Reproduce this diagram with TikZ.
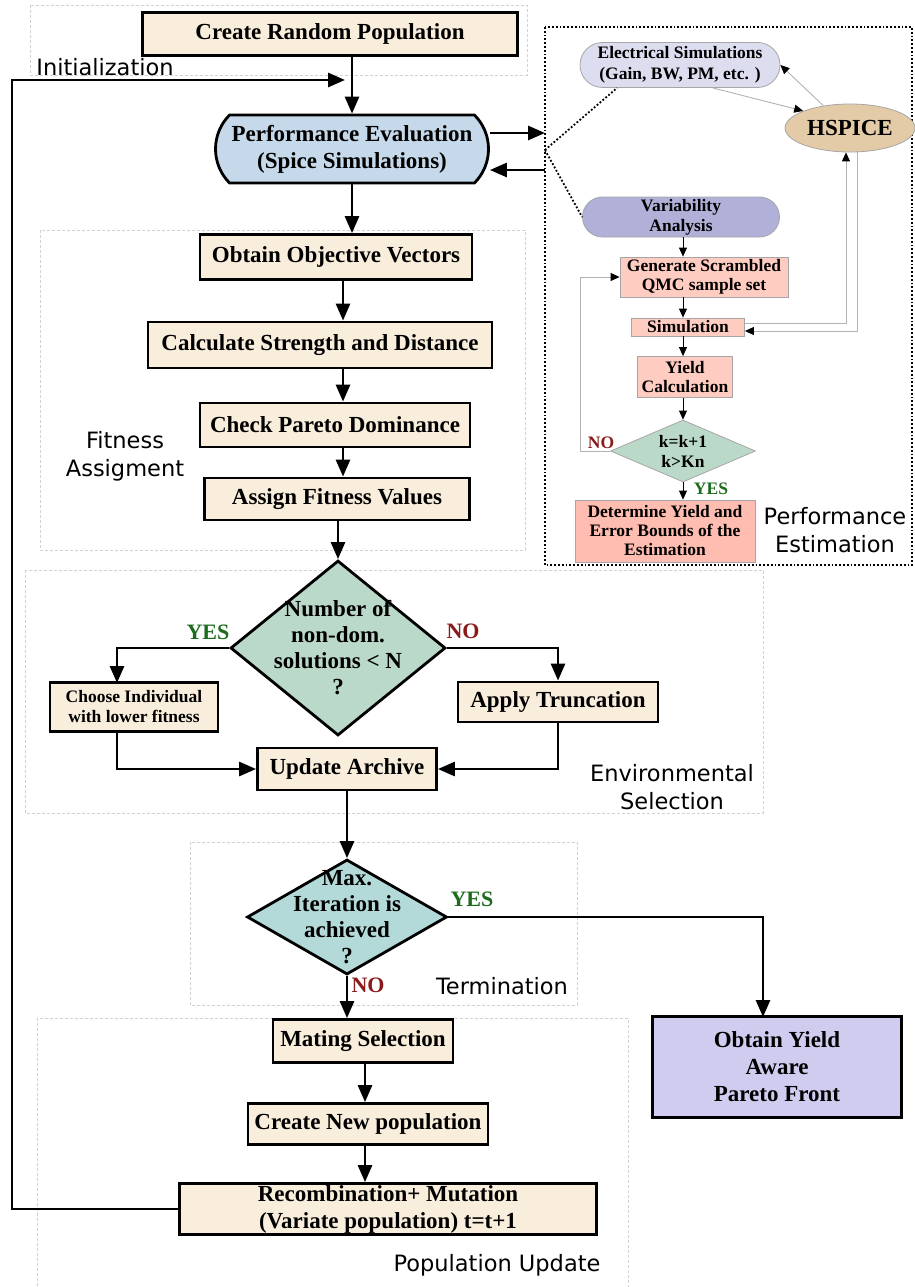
\documentclass[tikz,border=0pt]{standalone}
\usepackage{fontspec}
\setmainfont{Liberation Serif}
\newfontfamily\tagfont{DejaVu Sans}
\usetikzlibrary{arrows.meta,shapes.geometric,shapes.misc}
\definecolor{stepfill}{HTML}{F9EDDC}
\definecolor{evalfill}{HTML}{C6D9EA}
\definecolor{choicefill}{HTML}{BBD9C9}
\definecolor{stopfill}{HTML}{B3D9D9}
\definecolor{elecfill}{HTML}{DDDDF0}
\definecolor{varfill}{HTML}{B0B0D8}
\definecolor{spicefill}{HTML}{E3CBA8}
\definecolor{mcfill}{HTML}{FFCCC2}
\definecolor{detfill}{HTML}{FFBCB0}
\definecolor{frontfill}{HTML}{D0CCF0}
\definecolor{yesgreen}{HTML}{1D6B1D}
\definecolor{nored}{HTML}{8B1A1A}
\tikzset{
  stepbox/.style={draw=black,line width=2.8pt,fill=stepfill,align=center,inner sep=1pt,
    font=\fontsize{23}{27}\selectfont\bfseries},
  smallstep/.style={stepbox,font=\fontsize{17.5}{20}\selectfont\bfseries},
  evalbox/.style={stepbox,rounded rectangle,rounded rectangle arc length=90,fill=evalfill},
  choice/.style={draw=black,line width=2.8pt,diamond,align=center,
    font=\fontsize{23}{26}\selectfont\bfseries},
  mcbox/.style={draw=gray!70,line width=0.8pt,fill=mcfill,align=center,inner sep=0pt,
    font=\fontsize{17.5}{19}\selectfont\bfseries},
  pill/.style={draw=gray!70,line width=0.8pt,rounded rectangle,align=center,inner sep=0pt,
    font=\fontsize{17.5}{21}\selectfont\bfseries},
  arrow/.style={-{Triangle[length=17pt,width=14pt]},line width=2.8pt},
  thinarrow/.style={-{Triangle[length=9pt,width=8pt]},line width=0.8pt},
  grayarrow/.style={-{Triangle[length=9pt,width=8pt,color=black]},line width=0.9pt,draw=gray!60},
  dotline/.style={dotted,line width=1.8pt},
  section/.style={draw=gray!35,densely dashed,line width=0.6pt},
  seclabel/.style={font=\tagfont\fontsize{22.5}{28}\selectfont,align=center,inner sep=0pt},
  yeslab/.style={text=yesgreen,font=\fontsize{22}{26}\selectfont\bfseries,inner sep=0pt},
  nolab/.style={yeslab,text=nored}
}
\begin{document}
\begin{tikzpicture}[x=1pt,y=-1pt]
\useasboundingbox (0,0) rectangle (914,1287);

% section frames
\draw[section] (30,5) rectangle (527,75);
\draw[section] (40,230) rectangle (525,550);
\draw[section] (25,570) rectangle (763,813);
\draw[section] (190,842) rectangle (577,1005);
\draw[section] (37,1018) rectangle (628,1295);
\draw[dotline] (545,27) rectangle (912,565);

% main flow
\node[stepbox,minimum width=375,minimum height=43] (create) at (330,34) {Create Random Population};
\node[evalbox,minimum width=275,minimum height=68] (eval) at (352,149) {Performance Evaluation\\(Spice Simulations)};
\node[stepbox,minimum width=272,minimum height=45] (objv) at (336,257) {Obtain Objective Vectors};
\node[stepbox,minimum width=344,minimum height=46] (strength) at (320,345) {Calculate Strength and Distance};
\node[stepbox,minimum width=270,minimum height=44] (pareto) at (335,425) {Check Pareto Dominance};
\node[stepbox,minimum width=265,minimum height=42] (fitness) at (337,499) {Assign Fitness Values};
\node[choice,fill=choicefill,aspect=1.229,inner sep=-9pt,minimum width=215,minimum height=175] (nondom) at (338,648) {Number of\\non-dom.\\solutions < N\\?};
\node[smallstep,minimum width=168,minimum height=49] (choose) at (134,707) {Choose Individual\\with lower fitness};
\node[stepbox,minimum width=200,minimum height=40] (trunc) at (558,702) {Apply Truncation};
\node[stepbox,minimum width=179,minimum height=42] (archive) at (347,769) {Update Archive};
\node[choice,fill=stopfill,aspect=1.74,inner sep=-15.5pt,minimum width=200,minimum height=115] (maxit) at (347,917) {Max.\\Iteration is\\achieved\\?};
\node[stepbox,minimum width=180,minimum height=43] (mating) at (363,1041) {Mating Selection};
\node[stepbox,minimum width=240,minimum height=41] (newpop) at (368,1124) {Create New population};
\node[stepbox,minimum width=417,minimum height=51] (recomb) at (388,1209) {Recombination+ Mutation\\(Variate population) t=t+1};
\node[stepbox,fill=frontfill,minimum width=249,minimum height=101] (front) at (777,1067) {Obtain Yield\\Aware\\Pareto Front};

% performance estimation
\node[pill,fill=elecfill,minimum width=200,minimum height=45] (elec) at (680,65) {Electrical Simulations\\(Gain, BW, PM, etc. )};
\node[draw=gray!70,line width=0.8pt,ellipse,fill=spicefill,minimum width=130,minimum height=48,inner sep=0pt,
  font=\fontsize{23}{27}\selectfont\bfseries] (hspice) at (850,128) {HSPICE};
\node[pill,fill=varfill,minimum width=197,minimum height=40,font=\fontsize{17.5}{20}\selectfont\bfseries] (vary) at (681,217) {Variability\\Analysis};
\node[mcbox,minimum width=168,minimum height=40] (qmc) at (704,277) {Generate Scrambled\\QMC sample set};
\node[mcbox,minimum width=113,minimum height=18] (sim) at (688,327) {Simulation};
\node[mcbox,minimum width=95,minimum height=41] (yieldc) at (685,377) {Yield\\Calculation};
\node[draw=gray!70,line width=0.8pt,diamond,fill=choicefill,aspect=2.34,inner sep=0pt,minimum width=145,minimum height=62,
  align=center,font=\fontsize{17.5}{20}\selectfont\bfseries] (kloop) at (683,451) {k=k+1\\k>Kn};
\node[mcbox,fill=detfill,minimum width=180,minimum height=62] (bounds) at (665,531) {Determine Yield and\\Error Bounds of the\\Estimation};

\coordinate (spine) at (343,0);
\coordinate (spine2) at (365,0);
\coordinate (choose-in) at (117,683);
\coordinate (front-in) at (763,1017);
\coordinate (loop-turn) at (12,80);
\coordinate (loop-in) at (345,80);
\coordinate (est-in) at (545,133);
\coordinate (est-out) at (545,170);
\coordinate (est-hub) at (545,150);
\coordinate (kx) at (683,0);
\coordinate (retx) at (580,0);
\coordinate (hsp-a) at (846,0);
\coordinate (hsp-b) at (857,0);

\draw[arrow] (eval.north |- create.south) -- (eval.north);
\draw[arrow] (eval.south) -- (eval.south |- objv.north);
\draw[arrow] (spine |- objv.south) -- (spine |- strength.north);
\draw[arrow] (spine |- strength.south) -- (spine |- pareto.north);
\draw[arrow] (spine |- pareto.south) -- (spine |- fitness.north);
\draw[arrow] (nondom.north |- fitness.south) -- (nondom.north);
\draw[arrow] (nondom.west) -| (choose-in);
\draw[arrow] (nondom.east) -| (trunc.north);
\draw[arrow] (choose-in |- choose.south) |- (archive.west);
\draw[arrow] (trunc.south) |- (archive.east);
\draw[arrow] (maxit.north |- archive.south) -- (maxit.north);
\draw[arrow] (maxit.east) -| (front-in);
\draw[arrow] (maxit.south) -- (maxit.south |- mating.north);
\draw[arrow] (spine2 |- mating.south) -- (spine2 |- newpop.north);
\draw[arrow] (spine2 |- newpop.south) -- (spine2 |- recomb.north);
\draw[arrow] (recomb.west) -| (loop-turn) -- (loop-in);

\draw[arrow] (eval.east |- est-in) -- (est-in);
\draw[arrow] (est-out) -- (eval.east |- est-out);
\draw[dotline] (est-hub) -- (elec.200);
\draw[dotline] (est-hub) -- (vary.west);
\draw[thinarrow] (kx |- vary.south) -- (kx |- qmc.north);
\draw[thinarrow] (kx |- qmc.south) -- (kx |- sim.north);
\draw[thinarrow] (kx |- sim.south) -- (kx |- yieldc.north);
\draw[thinarrow] (kloop.north |- yieldc.south) -- (kloop.north);
\draw[thinarrow] (kloop.south) -- (kloop.south |- bounds.north);
\draw[grayarrow] (kloop.west) -- (retx |- kloop.west) |- (qmc.west);
\draw[grayarrow] ([yshift=4pt]sim.east) -| (hsp-a |- hspice.south);
\draw[grayarrow] (hsp-b |- hspice.south) |- ([yshift=-4pt]sim.east);
\draw[grayarrow] (hspice.140) -- (elec.east);
\draw[grayarrow] (elec.-35) -- (hspice.160);

% labels
\node[seclabel] (init-lab) at (105,67) {Initialization};
\node[seclabel] (fit-lab) at (125,456) {Fitness\\Assigment};
\node[seclabel] (env-lab) at (672,787) {Environmental\\Selection};
\node[seclabel] (term-lab) at (502,986) {Termination};
\node[seclabel] (pop-lab) at (497,1265) {Population Update};
\node[seclabel] (est-lab) at (835,530) {Performance\\Estimation};
\node[yeslab] (yes-a) at (208,632) {YES};
\node[nolab] (no-a) at (463,631) {NO};
\node[yeslab] (yes-b) at (472,899) {YES};
\node[nolab] (no-b) at (368,985) {NO};
\node[nolab,font=\fontsize{17.5}{20}\selectfont\bfseries] (no-c) at (601,443) {NO};
\node[yeslab,font=\fontsize{17.5}{20}\selectfont\bfseries] (yes-c) at (711,489) {YES};
\end{tikzpicture}
\end{document}
